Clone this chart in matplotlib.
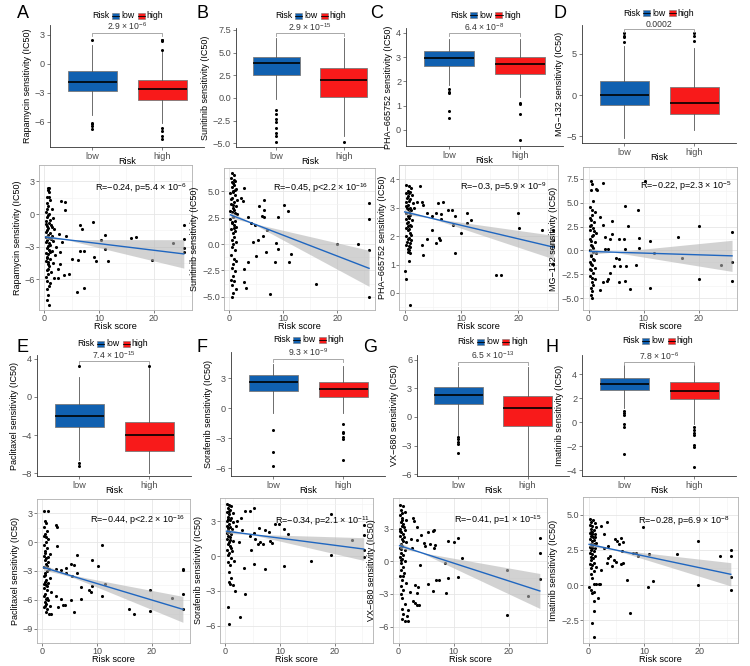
import numpy as np
import matplotlib.pyplot as plt
from matplotlib.patches import Rectangle

plt.rcParams['font.family'] = ['Liberation Sans', 'DejaVu Sans']
plt.rcParams['mathtext.default'] = 'regular'

W, H = 750, 666

# ---------------- data ----------------
drug_names = ['Rapamycin', 'Sunitinib', 'PHA\u2212665752', 'MG\u2212132',
              'Paclitaxel', 'Sorafenib', 'VX\u2212680', 'Imatinib']
panel_letters = ['A', 'B', 'C', 'D', 'E', 'F', 'G', 'H']
group_labels = ['low', 'high']
box_pvalues = ['2.9 \u00d7 10$^{-6}$', '2.9 \u00d7 10$^{-15}$', '6.4 \u00d7 10$^{-8}$', '0.0002',
               '7.4 \u00d7 10$^{-15}$', '9.3 \u00d7 10$^{-9}$', '6.5 \u00d7 10$^{-13}$', '7.8 \u00d7 10$^{-6}$']
cor_texts = ['R=\u22120.24, p=5.4 \u00d7 10$^{-6}$', 'R=\u22120.45, p<2.2 \u00d7 10$^{-16}$',
             'R=\u22120.3, p=5.9 \u00d7 10$^{-9}$', 'R=\u22120.22, p=2.3 \u00d7 10$^{-5}$',
             'R=\u22120.44, p<2.2 \u00d7 10$^{-16}$', 'R=\u22120.34, p=2.1 \u00d7 10$^{-11}$',
             'R=\u22120.41, p=1 \u00d7 10$^{-15}$', 'R=\u22120.28, p=6.9 \u00d7 10$^{-8}$']

# box summaries: [lower whisker, Q1, median, Q3, upper whisker] and outliers
rapa_low = [-5.3, -2.8, -1.86, -0.72, 1.9]
rapa_low_out = [2.5, -6.07, -6.24, -6.48, -6.75]
rapa_high = [-6.1, -3.72, -2.66, -1.69, 1.2]
rapa_high_out = [1.45, 2.3, 2.4, 2.5, -6.6, -6.95, -7.5, -7.8]
suni_low = [-0.1, 2.5, 3.8, 4.55, 6.6]
suni_low_out = [-1.3, -1.8, -2.35, -2.7, -3.3, -3.85, -4.2, -4.8]
suni_high = [-4.2, 0.15, 2.0, 3.3, 6.6]
suni_high_out = [-4.8]
pha_low = [1.86, 2.64, 2.95, 3.25, 3.74]
pha_low_out = [1.68, 1.58, 1.51, 0.78, 0.51]
pha_high = [1.37, 2.3, 2.71, 3.02, 3.74]
pha_high_out = [1.13, 1.06, 0.65, -0.41]
mg_low = [-5.15, -1.23, 0.0, 1.69, 5.9]
mg_low_out = [6.5, 7.0, 7.2, 7.5]
mg_high = [-4.2, -2.26, -0.9, 0.95, 5.7]
mg_high_out = [6.6, 7.2, 7.5]
pacli_low = [-6.6, -3.17, -2.0, -0.76, 2.13]
pacli_low_out = [3.24, -6.95, -7.3]
pacli_high = [-8.0, -5.7, -4.0, -2.63, 3.0]
pacli_high_out = [3.24]
sora_low = [-0.47, 1.75, 2.56, 3.33, 4.4]
sora_low_out = [-2.15, -4.35, -5.8]
sora_high = [-0.53, 1.08, 1.92, 2.6, 4.2]
sora_high_out = [-1.55, -2.4, -2.5, -2.9, -3.1, -5.2]
vx_low = [-1.9, 1.33, 2.25, 3.19, 5.2]
vx_low_out = [-2.1, -2.35, -2.6, -2.85, -3.8]
vx_high = [-6.2, -0.95, 0.91, 2.21, 5.2]
vx_high_out = []
imat_low = [1.14, 2.67, 3.22, 3.64, 4.75]
imat_low_out = [0.94, 0.72, 0.58, -0.17, -0.39, -2.7]
imat_high = [-0.2, 1.92, 2.61, 3.36, 4.75]
imat_high_out = [-0.39, -0.67, -0.94, -1.08, -1.92, -2.06, -3.72]

# scatter: (risk score, IC50)
rapa_pts = [(0.6, 2.4), (0.9, 2.4), (0.7, 2.2), (0.8, 2.0), (0.5, 1.6), (1.1, 1.3), (0.4, 1.0), (0.7, 0.7),
            (1.3, 0.5), (0.3, 0.2), (0.9, 0.0), (0.6, -0.1), (0.5, -0.3), (1.5, -0.4), (0.2, -0.6), (0.8, -0.8),
            (1.2, -1.0), (0.4, -1.1), (0.6, -1.3), (1.8, -1.4), (0.3, -1.6), (1.0, -1.7), (0.7, -1.9), (1.4, -2.0),
            (0.2, -2.1), (0.9, -2.2), (0.5, -2.4), (1.6, -2.5), (0.3, -2.6), (1.1, -2.8), (0.6, -2.9), (2.2, -3.0),
            (0.4, -3.1), (0.8, -3.3), (1.3, -3.4), (0.2, -3.6), (0.7, -3.7), (1.9, -3.8), (0.5, -4.0), (1.0, -4.1),
            (0.3, -4.3), (1.5, -4.5), (0.6, -4.6), (0.9, -4.8), (2.4, -5.0), (0.4, -5.1), (1.2, -5.3), (0.7, -5.5),
            (0.3, -5.8), (1.7, -5.9), (0.5, -6.1), (1.1, -6.3), (0.8, -6.6), (0.4, -6.9), (0.6, -7.4), (0.5, -7.9),
            (0.9, -8.3), (0.4, 0.5), (1.0, -0.5), (0.5, -1.5), (1.2, -2.3), (0.8, -2.7), (0.4, -3.9), (1.0, -3.5),
            (0.7, -4.4), (1.3, -1.2), (0.3, -0.9), (0.6, -5.0), (0.9, 1.6),
            (3.0, 1.2), (3.8, 1.1), (3.7, 0.4), (6.5, -1.0), (6.8, -1.4), (8.9, -0.7), (11.0, -1.9), (10.3, -2.4),
            (11.0, -3.2), (15.8, -2.2), (16.7, -2.1), (11.7, -4.3), (9.4, -4.3), (9.1, -3.9), (6.5, -3.4),
            (7.3, -3.4), (5.0, -4.1), (6.2, -4.2), (19.6, -4.2), (23.5, -2.65), (25.5, -1.0), (25.5, -2.3),
            (25.5, -3.1), (25.5, -3.5), (5.9, -7.15), (7.2, -6.8), (4.4, -5.5), (3.5, -5.6), (2.8, -4.6),
            (4.0, -2.0), (3.2, -2.6), (2.6, -1.8), (2.5, -5.9), (2.9, -3.5)]
suni_pts = [(0.5, 6.7), (0.8, 6.5), (0.3, 6.3), (1.1, 6.0), (0.6, 5.8), (0.9, 5.6), (0.4, 5.4), (1.3, 5.2),
            (0.7, 5.0), (0.2, 4.8), (1.0, 4.6), (0.5, 4.4), (1.4, 4.2), (0.8, 4.0), (0.3, 3.8), (1.2, 3.6),
            (0.6, 3.4), (0.9, 3.2), (0.4, 3.0), (1.5, 2.8), (0.7, 2.6), (0.2, 2.4), (1.1, 2.2), (0.5, 2.0),
            (0.8, 1.8), (1.3, 1.6), (0.3, 1.4), (1.0, 1.2), (0.6, 1.0), (0.9, 0.7), (0.4, 0.4), (1.2, 0.2),
            (0.7, 0.0), (0.5, -0.3), (1.0, -0.6), (0.3, -1.0), (0.8, -1.4), (1.3, -1.6), (0.6, -1.9), (0.4, -2.3),
            (1.1, -2.6), (0.7, -3.0), (0.3, -3.4), (0.9, -3.5), (0.5, -3.9), (1.2, -4.3), (0.6, -4.6), (0.4, -5.0),
            (0.5, 5.9), (1.0, 5.1), (0.3, 4.3), (0.6, 3.7), (1.1, 2.9), (0.4, 2.1), (0.9, 1.5), (0.6, 4.9),
            (0.8, 6.1), (0.2, 3.1),
            (2.65, 5.3), (2.2, 4.4), (2.5, 4.1), (6.4, 4.2), (5.4, 3.6), (6.4, 3.2), (10.1, 3.7), (10.9, 3.1),
            (9.1, 2.6), (6.0, 2.7), (6.5, 2.6), (3.4, 2.6), (4.0, 2.0), (4.75, 1.8), (7.0, 1.3), (6.3, 0.8),
            (5.25, 0.4), (4.3, 0.2), (8.6, 0.1), (9.0, -0.5), (6.8, -0.8), (11.5, -0.9), (8.5, -1.7), (11.0, -1.7),
            (4.9, -1.1), (3.4, -1.7), (2.8, -2.4), (2.65, -3.6), (3.1, -4.2), (7.6, -4.75), (16.0, -3.75),
            (19.9, 0.0), (23.8, 0.0), (25.9, 3.9), (25.9, 2.4), (25.9, -0.6), (25.9, -5.0)]
pha_pts = [(0.3, 3.8), (0.7, 3.75), (1.1, 3.7), (0.5, 3.6), (0.9, 3.55), (0.2, 3.5), (1.3, 3.45), (0.6, 3.4),
           (0.4, 3.35), (1.0, 3.3), (0.8, 3.25), (0.3, 3.2), (1.4, 3.15), (0.6, 3.1), (0.2, 3.05), (0.9, 3.0),
           (0.5, 2.95), (1.2, 2.9), (0.7, 2.85), (0.3, 2.8), (1.0, 2.75), (0.5, 2.7), (0.8, 2.65), (0.2, 2.6),
           (1.3, 2.55), (0.6, 2.5), (0.4, 2.45), (0.9, 2.4), (1.1, 2.35), (0.3, 2.3), (0.7, 2.25), (0.5, 2.2),
           (1.0, 2.1), (0.2, 2.0), (0.8, 1.95), (0.6, 1.9), (1.2, 1.85), (0.4, 1.8), (0.9, 1.75), (0.3, 1.7),
           (0.7, 1.65), (1.0, 1.6), (0.5, 1.55), (0.8, 1.5), (0.6, 1.45), (0.9, 1.4), (1.2, 2.05), (0.4, 3.0),
           (0.8, 3.5), (0.5, 2.35), (0.0, 0.76), (0.3, 0.48), (0.9, -0.43), (0.8, 1.13),
           (2.7, 3.77), (2.1, 3.2), (3.0, 3.2), (3.3, 3.1), (1.7, 3.0), (3.9, 2.8), (4.8, 2.7), (5.5, 2.8),
           (5.8, 3.15), (6.8, 3.2), (6.4, 2.77), (6.4, 2.6), (7.6, 2.9), (8.4, 2.9), (8.8, 2.7), (10.9, 2.8),
           (11.6, 2.55), (11.0, 2.45), (10.0, 2.1), (8.5, 2.4), (4.8, 2.2), (6.1, 1.95), (6.2, 1.85), (5.6, 1.77),
           (3.9, 1.9), (3.0, 1.7), (3.2, 1.35), (8.8, 1.4), (16.1, 0.64), (17.0, 0.62), (20.0, 2.8), (20.1, 2.3),
           (24.1, 2.2), (26.2, 2.23), (26.2, 1.86), (26.2, 1.64), (26.2, 1.03)]
mg_pts = [(0.4, 7.3), (0.7, 7.0), (0.5, 6.3), (0.9, 5.2), (0.3, 4.6), (1.2, 4.0), (0.6, 3.7), (0.2, 3.4),
          (1.0, 3.0), (0.5, 2.7), (0.8, 2.4), (0.3, 2.1), (1.4, 1.8), (0.6, 1.5), (0.2, 1.2), (1.1, 0.9),
          (0.4, 0.6), (0.8, 0.3), (0.3, 0.0), (1.3, -0.3), (0.5, -0.6), (0.9, -0.9), (0.2, -1.2), (0.7, -1.5),
          (1.1, -1.8), (0.4, -2.1), (0.8, -2.4), (0.3, -2.7), (1.2, -3.0), (0.6, -3.3), (0.9, -3.6), (0.4, -3.9),
          (0.7, -4.3), (0.5, -4.7), (0.6, -5.0), (1.0, 2.0), (0.4, 1.0), (0.7, 0.5), (0.5, -0.5), (1.0, -1.0),
          (0.3, -2.0), (0.7, -2.9), (0.5, 3.2), (0.9, 1.6), (0.4, -1.4), (0.6, 4.2), (0.8, -0.2), (0.3, 2.6),
          (2.7, 7.1), (1.3, 6.4), (1.55, 6.3), (10.2, 7.3), (6.6, 4.7), (9.0, 4.2), (2.0, 3.5), (4.2, 3.1),
          (2.7, 2.7), (7.1, 2.6), (4.2, 1.75), (3.0, 1.4), (3.9, 1.2), (5.5, 1.2), (6.4, 1.2), (9.2, 1.3),
          (11.1, 1.0), (16.2, 1.4), (3.0, 0.2), (3.6, 0.2), (6.7, 0.1), (11.9, -0.25), (9.2, 0.25), (5.0, -0.8),
          (5.5, -0.95), (17.0, -0.8), (4.7, -1.6), (5.8, -1.6), (6.8, -1.6), (8.7, -1.5), (3.9, -2.4),
          (3.6, -3.0), (3.3, -3.2), (5.5, -3.35), (6.7, -3.2), (7.6, -4.0), (11.1, -3.9), (2.7, -3.3),
          (2.0, -4.1), (20.1, 2.6), (20.1, -3.0), (24.1, -1.5), (26.1, 1.9), (26.1, -1.2), (26.1, -3.2)]
pacli_pts = [(0.25, 3.25), (1.0, 3.25), (0.4, 2.2), (0.6, 2.0), (0.3, 1.6), (0.8, 1.2), (0.5, 0.9), (0.2, 0.6),
             (1.1, 0.3), (0.6, 0.0), (0.3, -0.3), (0.9, -0.6), (0.5, -0.9), (1.3, -1.2), (0.2, -1.4), (0.7, -1.6),
             (0.4, -1.9), (1.0, -2.1), (0.6, -2.3), (0.3, -2.6), (1.2, -2.8), (0.8, -3.0), (0.5, -3.2), (0.2, -3.5),
             (1.4, -3.7), (0.7, -3.9), (0.4, -4.1), (1.0, -4.3), (0.6, -4.5), (0.3, -4.8), (0.9, -5.0), (1.5, -5.2),
             (0.5, -5.4), (0.2, -5.6), (0.8, -5.8), (1.1, -6.0), (0.4, -6.2), (0.7, -6.4), (1.3, -6.6), (0.3, -6.8),
             (0.9, -7.0), (0.6, -7.3), (1.2, -7.5), (0.5, -1.1), (0.8, -2.5), (0.4, -3.4), (0.9, -4.6), (0.5, -6.6),
             (0.7, 0.5), (1.0, -1.5), (0.3, -4.4), (0.6, -5.9),
             (2.5, 1.8), (2.6, 1.6), (2.7, -0.35), (10.9, -0.25), (6.4, -1.3), (5.2, -2.3), (5.8, -2.4),
             (4.3, -2.7), (9.1, -1.9), (10.1, -2.5), (6.4, -3.2), (5.4, -3.55), (4.3, -3.25), (3.4, -2.9),
             (2.5, -2.8), (11.5, -4.4), (9.1, -4.6), (7.0, -4.7), (8.6, -5.0), (8.8, -5.2), (10.9, -5.6),
             (7.0, -5.9), (5.2, -6.0), (4.2, -6.5), (5.8, -7.3), (2.9, -6.8), (1.6, -7.5), (3.4, -5.9),
             (2.5, -5.6), (3.7, -6.5), (15.9, -7.0), (16.8, -7.5), (19.7, -5.0), (19.7, -7.2), (23.7, -5.8),
             (25.7, -2.75), (25.7, -2.9), (25.7, -5.4), (25.7, -7.0)]
sora_pts = [(0.3, 4.5), (0.7, 4.4), (1.1, 4.3), (0.5, 4.1), (0.9, 4.0), (0.2, 3.8), (1.3, 3.7), (0.6, 3.6),
            (0.4, 3.4), (1.0, 3.3), (0.8, 3.1), (0.3, 3.0), (1.4, 2.9), (0.6, 2.8), (0.2, 2.6), (0.9, 2.5),
            (0.5, 2.4), (1.2, 2.3), (0.7, 2.1), (0.3, 2.0), (1.0, 1.9), (0.5, 1.7), (0.8, 1.6), (0.2, 1.5),
            (1.3, 1.3), (0.6, 1.2), (0.4, 1.0), (0.9, 0.9), (1.1, 0.7), (0.3, 0.5), (0.7, 0.3), (0.5, 0.1),
            (1.0, -0.2), (0.4, -0.5), (0.8, -0.8), (0.6, 3.9), (0.4, 2.2), (0.9, 1.4), (0.5, 3.2), (1.2, 0.4),
            (0.7, -1.4), (1.0, -1.9), (0.7, -2.2), (0.9, -2.4), (1.3, -2.5), (1.8, -3.05), (3.5, -3.3),
            (0.4, -4.4), (2.6, -5.3), (0.6, -5.9), (1.5, -0.45),
            (4.5, 3.9), (5.2, 4.1), (3.6, 3.9), (2.9, 3.3), (2.2, 3.0), (6.2, 2.4), (7.2, 2.25), (7.9, 2.1),
            (9.1, 2.8), (9.8, 2.8), (10.7, 2.3), (11.4, 1.9), (5.3, 2.0), (4.5, 1.7), (5.4, 1.45), (8.1, 1.3),
            (6.3, 1.2), (6.9, 1.0), (8.5, 1.1), (4.7, 0.5), (3.4, -1.0), (5.2, -0.7), (7.3, -1.1), (10.8, -0.9),
            (6.0, 1.0), (15.7, -0.4), (19.4, 3.65), (19.4, 0.1), (23.2, 1.4), (25.3, 2.7), (25.3, 1.8),
            (25.3, 0.5), (25.3, -0.05), (2.0, 2.6), (2.5, 1.2), (3.0, 2.2)]
vx_pts = [(0.3, 5.2), (0.8, 5.1), (0.5, 4.7), (1.1, 4.5), (0.2, 4.2), (0.7, 4.0), (1.3, 3.8), (0.4, 3.6),
          (0.9, 3.4), (0.6, 3.2), (0.2, 3.0), (1.2, 2.9), (0.5, 2.7), (0.8, 2.5), (0.3, 2.3), (1.0, 2.2),
          (0.6, 2.0), (1.4, 1.8), (0.4, 1.6), (0.7, 1.4), (0.2, 1.2), (1.1, 1.0), (0.5, 0.8), (0.9, 0.6),
          (0.3, 0.4), (0.7, 0.2), (1.2, 0.0), (0.4, -0.2), (0.8, -0.5), (0.5, -0.8), (1.0, -1.1), (0.3, -1.4),
          (0.7, -1.7), (1.3, -2.0), (0.5, -2.3), (0.9, -2.6), (0.4, -3.0), (0.7, -3.4), (1.1, -3.9), (0.6, -4.4),
          (0.9, -4.8), (0.7, -5.3), (0.6, 3.8), (0.3, 2.8), (0.8, 1.9), (0.5, 1.1), (1.0, 3.1), (0.4, 0.1),
          (0.9, -1.4), (0.6, 4.4),
          (2.7, 3.95), (2.9, 3.7), (3.3, 3.1), (4.1, 2.4), (3.3, 1.95), (4.7, 1.7), (5.3, 2.7), (6.3, 2.75),
          (6.4, 2.85), (5.7, 1.6), (6.6, 1.45), (6.4, 1.25), (4.8, 1.4), (2.3, 2.0), (2.5, 1.2), (9.0, 1.9),
          (10.0, 1.75), (10.9, 2.1), (11.5, 0.3), (8.4, -0.2), (3.9, -0.35), (5.4, -2.1), (6.9, -1.7),
          (7.3, -1.7), (9.0, -1.5), (10.9, -1.45), (6.3, -2.7), (8.7, -2.9), (3.3, -2.9), (3.6, -2.35),
          (3.0, -2.2), (2.1, -2.8), (2.7, -3.65), (3.0, -3.8), (3.3, -4.05), (3.8, -4.0), (1.8, -4.5),
          (1.5, -5.0), (1.8, -5.5), (1.1, -5.45), (19.7, -0.8), (19.7, -4.9), (23.6, -3.2), (25.7, 2.15),
          (25.7, 0.8), (25.7, -1.65)]
imat_pts = [(0.3, 4.7), (0.8, 4.65), (0.5, 4.5), (1.1, 4.4), (0.2, 4.3), (0.7, 4.2), (1.3, 4.1), (0.4, 4.0),
            (0.9, 3.9), (0.6, 3.8), (0.2, 3.7), (1.2, 3.6), (0.5, 3.5), (0.8, 3.4), (0.3, 3.3), (1.0, 3.2),
            (0.6, 3.1), (1.4, 3.0), (0.4, 2.9), (0.7, 2.8), (0.2, 2.7), (1.1, 2.6), (0.5, 2.5), (0.9, 2.4),
            (0.3, 2.3), (0.7, 2.2), (1.2, 2.1), (0.4, 2.0), (0.8, 1.9), (0.5, 1.8), (1.0, 1.6), (0.3, 1.5),
            (0.7, 1.4), (1.3, 1.3), (0.5, 1.2), (0.9, 1.0), (0.4, 0.8), (0.6, 3.6), (0.9, 2.9), (0.4, 3.8),
            (0.7, 2.6), (1.1, 3.4),
            (0.55, 0.5), (1.0, 0.05), (1.35, 0.05), (1.8, 0.05), (2.1, 0.05), (1.0, -0.45), (0.7, -0.57),
            (1.0, -1.1), (0.9, -1.85), (0.55, -2.65), (1.0, -3.65), (0.1, -0.15), (0.4, -0.35), (1.65, -0.9),
            (3.3, 4.45), (2.3, 4.2), (2.75, 3.65), (4.7, 3.3), (5.1, 3.15), (5.9, 3.35), (5.5, 2.95), (3.5, 2.75),
            (2.75, 2.6), (3.9, 2.1), (4.6, 1.75), (5.0, 1.65), (3.3, 1.55), (5.8, 1.5), (6.2, 1.6), (6.2, 3.05),
            (6.05, 2.4), (7.0, 0.4), (8.1, 2.3), (8.5, 2.25), (9.0, 2.1), (9.9, 4.1), (10.9, 2.2), (10.8, -0.15),
            (11.6, 0.3), (7.5, -2.0), (16.0, 2.2), (19.8, 3.15), (19.8, 0.0), (23.7, 2.1), (25.7, 2.5),
            (25.7, 2.05), (25.7, 0.55), (25.7, -0.35), (3.5, 1.9), (4.3, 1.35), (2.3, 1.1)]

# linear fits as printed in the panels: intercept, slope, 95% CI half-width at low / high end
fit_intercept = [-2.1, 2.8, 2.85, -0.1, -2.6, 2.15, 1.46, 2.9]
fit_slope = [-0.061, -0.197, -0.0473, -0.018, -0.171, -0.0613, -0.163, -0.0829]
fit_ci_start = [0.2, 0.25, 0.06, 0.25, 0.3, 0.15, 0.25, 0.12]
fit_ci_end = [1.3, 1.7, 0.41, 1.62, 1.35, 0.97, 1.6, 0.82]

box_low = [rapa_low, suni_low, pha_low, mg_low, pacli_low, sora_low, vx_low, imat_low]
box_low_out = [rapa_low_out, suni_low_out, pha_low_out, mg_low_out,
               pacli_low_out, sora_low_out, vx_low_out, imat_low_out]
box_high = [rapa_high, suni_high, pha_high, mg_high, pacli_high, sora_high, vx_high, imat_high]
box_high_out = [rapa_high_out, suni_high_out, pha_high_out, mg_high_out,
                pacli_high_out, sora_high_out, vx_high_out, imat_high_out]
scatter_pts = [rapa_pts, suni_pts, pha_pts, mg_pts, pacli_pts, sora_pts, vx_pts, imat_pts]

# ---------------- layout (pixels: left, top, right, bottom) ----------------
box_rect = [(50, 25, 204, 147), (236, 28, 384, 147), (406, 28, 563, 146), (582, 25, 736, 143),
            (37, 355, 191, 476), (231, 352, 385, 476), (417, 355, 569, 476), (582, 355, 736, 476)]
box_ylim = [(-8.6, 4.0), (-5.4, 7.7), (-0.66, 4.2), (-5.8, 8.5),
            (-8.3, 4.4), (-6.8, 5.6), (-6.2, 6.5), (-4.5, 5.6)]
box_ticks = [[-6, -3, 0, 3], [-5, -2.5, 0, 2.5, 5, 7.5], [0, 1, 2, 3, 4], [-5, 0, 5],
             [-8, -4, 0, 4], [-6, -3, 0, 3], [-6, -3, 0, 3, 6], [-4, -2, 0, 2, 4]]
bracket_y = [3.17, 7.1, 3.99, 8.0, 3.75, 4.95, 5.8, 5.0]
legend_xy = [(92, 16), (275, 16), (450, 15), (623, 13), (77, 344), (273, 340), (457, 342), (622, 341)]
letter_xy = [(23, 13), (203, 13), (377, 13), (560, 13), (22, 348), (202, 348), (370, 348), (552, 348)]

sc_rect = [(39, 165, 192, 310), (224, 168, 375, 310), (399, 165, 558, 310), (583, 167, 737, 310),
           (37, 499, 190, 643), (220, 498, 373, 643), (393, 498, 547, 643), (583, 497, 738, 643)]
sc_ylim = [(-8.8, 3.4), (-5.4, 7.2), (-0.6, 4.06), (-5.7, 7.9),
           (-9.1, 3.9), (-6.5, 5.0), (-6.2, 5.8), (-4.1, 5.2)]
sc_ticks = [[-6, -3, 0, 3], [-5, -2.5, 0, 2.5, 5], [0, 1, 2, 3, 4], [-5, -2.5, 0, 2.5, 5, 7.5],
            [-9, -6, -3, 0, 3], [-6, -3, 0, 3], [-6, -3, 0, 3], [-2.5, 0, 2.5, 5]]
cor_xy = [(187, 188), (368, 188), (547, 187), (732, 186), (185, 520), (370, 521), (542, 520), (730, 521)]

low_color = '#1060b0'
high_color = '#f81a1a'
tick_color = '#4d4d4d'


def frac_rect(r):
    l, t, rr, b = r
    return [l / W, 1 - b / H, (rr - l) / W, (b - t) / H]


def fmt_tick(v, ticks):
    s = ('%.1f' % v) if any(t != int(t) for t in ticks) else ('%d' % v)
    return s.replace('-', '\u2212')


fig = plt.figure(figsize=(7.5, 6.66), dpi=100)
renderer = fig.canvas.get_renderer()


def legend_row(x0, ypx):
    # "Risk [box] low [box] high" laid out left to right
    fy = 1 - ypx / H
    t = fig.text(x0 / W, fy, 'Risk', fontsize=6.3, ha='left', va='center')
    x = t.get_window_extent(renderer).x1 + 3
    for col, lab in [(low_color, 'low'), (high_color, 'high')]:
        fig.patches.append(Rectangle((x / W, fy - 3 / H), 7 / W, 6 / H, facecolor=col,
                                     edgecolor='#7a7a7a', linewidth=0.4, transform=fig.transFigure))
        fig.lines.append(plt.Line2D([x / W, (x + 7) / W], [fy, fy], color='black',
                                    linewidth=0.6, transform=fig.transFigure))
        t = fig.text((x + 9) / W, fy, lab, fontsize=6.3, ha='left', va='center')
        x = t.get_window_extent(renderer).x1 + 3


for i in range(8):
    # ---------- boxplot ----------
    ax = fig.add_axes(frac_rect(box_rect[i]))
    stats = []
    for vals, out, lab in [(box_low[i], box_low_out[i], 'low'), (box_high[i], box_high_out[i], 'high')]:
        stats.append(dict(whislo=vals[0], q1=vals[1], med=vals[2], q3=vals[3], whishi=vals[4],
                          fliers=out, label=lab))
    bp = ax.bxp(stats, positions=[1, 2], widths=0.7, patch_artist=True, showcaps=False,
                boxprops=dict(edgecolor='#7a7a7a', linewidth=0.6),
                medianprops=dict(color='black', linewidth=1.2),
                whiskerprops=dict(color='#555555', linewidth=0.6),
                flierprops=dict(marker='o', markersize=2.2, markerfacecolor='black',
                                markeredgecolor='none'))
    bp['boxes'][0].set_facecolor(low_color)
    bp['boxes'][1].set_facecolor(high_color)
    ax.set_xlim(0.4, 2.6)
    ax.set_ylim(*box_ylim[i])
    ax.set_yticks(box_ticks[i])
    ax.set_yticklabels([fmt_tick(v, box_ticks[i]) for v in box_ticks[i]])
    ax.set_xticks([1, 2])
    ax.set_xticklabels(group_labels)
    ax.tick_params(labelsize=6.6, colors=tick_color, length=2, width=0.5, pad=1.5)
    for s in ['top', 'right']:
        ax.spines[s].set_visible(False)
    for s in ['left', 'bottom']:
        ax.spines[s].set_linewidth(0.6)
        ax.spines[s].set_color('#333333')
    ax.set_xlabel('Risk', fontsize=6.6, labelpad=-3)
    ax.set_ylabel(drug_names[i] + ' sensitivity (IC50)', fontsize=6.5, labelpad=2)
    # significance bracket
    yr = box_ylim[i][1] - box_ylim[i][0]
    by = bracket_y[i]
    ax.plot([1, 1, 2, 2], [by - 0.025 * yr, by, by, by - 0.025 * yr], color='#9a9a9a',
            linewidth=0.6, clip_on=False)
    ax.text(1.5, by + 0.005 * yr, box_pvalues[i], ha='center', va='bottom', fontsize=6.2,
            color='#333333', clip_on=False)
    legend_row(*legend_xy[i])
    lx0, ly0 = letter_xy[i]
    fig.text(lx0 / W, 1 - ly0 / H, panel_letters[i], fontsize=13, ha='center', va='center')

    # ---------- scatter with linear fit ----------
    ax2 = fig.add_axes(frac_rect(sc_rect[i]))
    pts = np.array(scatter_pts[i])
    x, y = pts[:, 0], pts[:, 1]
    ax2.scatter(x, y, s=5, c='black', linewidths=0, zorder=2)
    xs = np.linspace(x.min(), x.max(), 100)
    ys = fit_intercept[i] + fit_slope[i] * xs
    # hyperbolic confidence band through the two read half-widths
    xc = x.mean()
    d0, d1 = (x.min() - xc) ** 2, (x.max() - xc) ** 2
    b = (fit_ci_end[i] ** 2 - fit_ci_start[i] ** 2) / (d1 - d0)
    a = max(fit_ci_start[i] ** 2 - b * d0, 0.0)
    half = np.sqrt(a + b * (xs - xc) ** 2)
    ax2.fill_between(xs, ys - half, ys + half, color='#b5b5b5', alpha=0.6,
                     linewidth=0, zorder=3)
    ax2.plot(xs, ys, color='#1f66c0', linewidth=1.0, zorder=4)
    ax2.set_xlim(-1.0, 27.0)
    ax2.set_ylim(*sc_ylim[i])
    ax2.set_xticks([0, 10, 20])
    ax2.set_xticks([5, 15, 25], minor=True)
    yt = sc_ticks[i]
    ax2.set_yticks(yt)
    step = yt[1] - yt[0]
    ax2.set_yticks([v + step / 2 for v in [yt[0] - step] + yt], minor=True)
    ax2.set_yticklabels([fmt_tick(v, yt) for v in yt])
    ax2.grid(which='major', color='#e6e6e6', linewidth=0.6, zorder=0)
    ax2.grid(which='minor', color='#f2f2f2', linewidth=0.4, zorder=0)
    ax2.set_axisbelow(True)
    ax2.tick_params(which='both', labelsize=6.5, colors=tick_color, length=2, width=0.5, pad=1)
    ax2.tick_params(which='minor', length=0)
    for s in ax2.spines.values():
        s.set_color('#b0b0b0')
        s.set_linewidth(0.6)
    ax2.set_xlabel('Risk score', fontsize=6.6, labelpad=-0.5)
    ax2.set_ylabel(drug_names[i] + ' sensitivity (IC50)', fontsize=6.5, labelpad=2)
    cx, cy = cor_xy[i]
    fig.text(cx / W, 1 - cy / H, cor_texts[i], fontsize=6.5, ha='right', va='center')

fig.savefig('out.png', dpi=100, facecolor='white')
